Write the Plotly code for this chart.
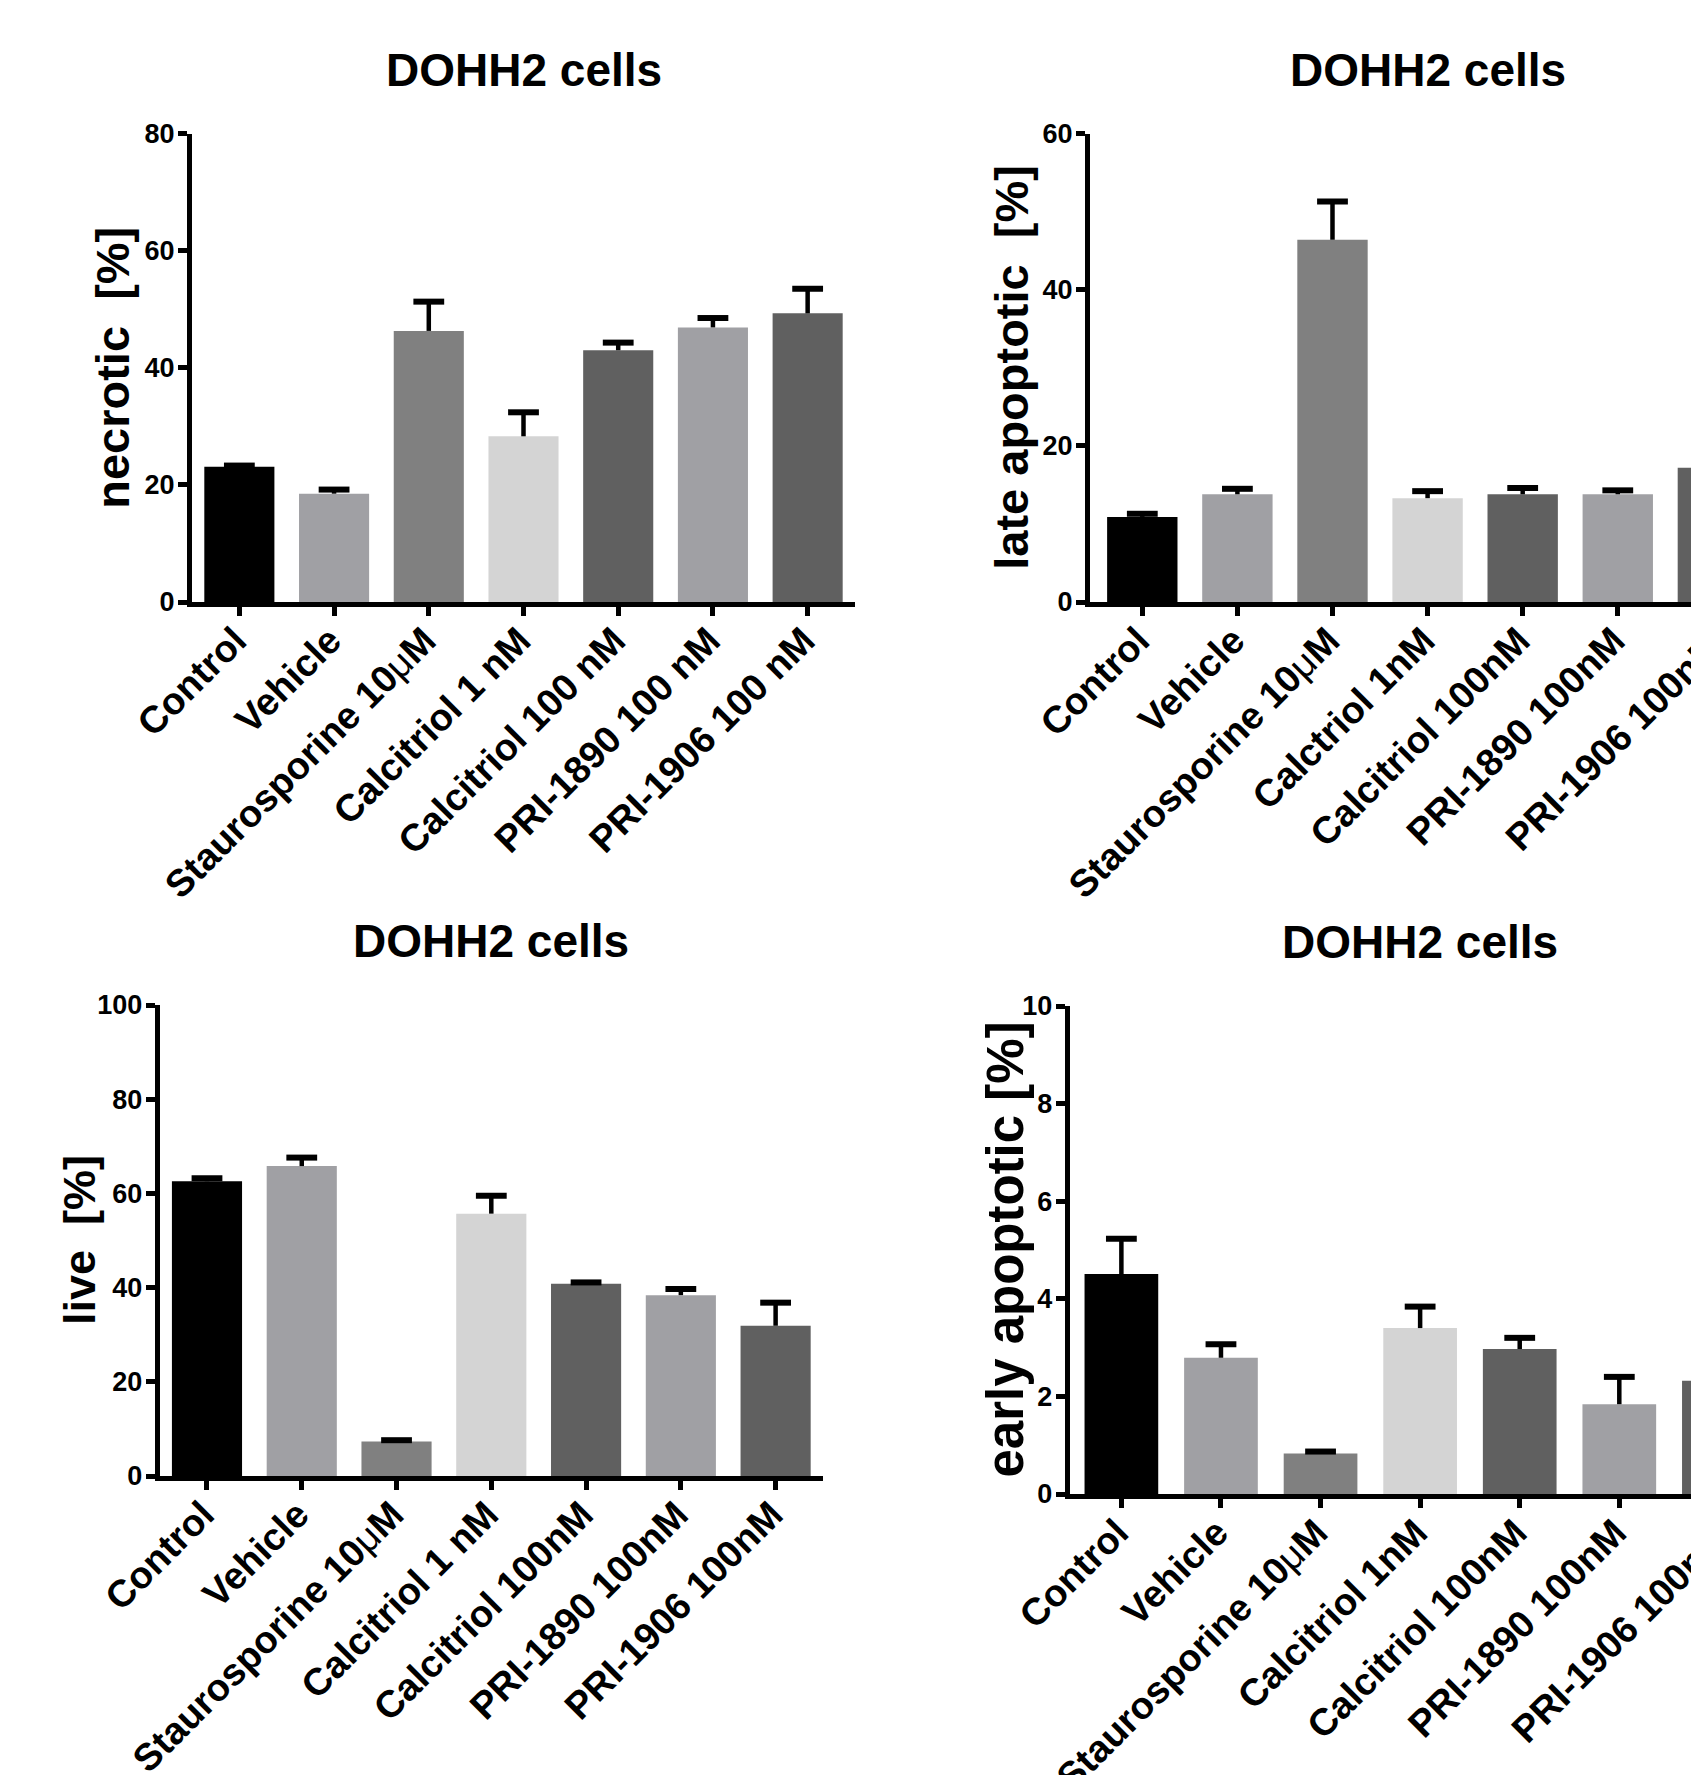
import plotly.graph_objects as go

# ---------------- data ----------------
cats_necrotic = ["Control", "Vehicle", "Staurosporine 10μM", "Calcitriol 1 nM",
                 "Calcitriol 100 nM", "PRI-1890 100 nM", "PRI-1906 100 nM"]
necrotic_mean = [23.1, 18.5, 46.3, 28.3, 43.0, 46.9, 49.3]
necrotic_sem = [0.2, 0.7, 5.0, 4.1, 1.3, 1.6, 4.2]

cats_late = ["Control", "Vehicle", "Staurosporine 10μM", "Calctriol 1nM",
             "Calcitriol 100nM", "PRI-1890 100nM", "PRI-1906 100nM"]
late_mean = [10.9, 13.8, 46.4, 13.3, 13.8, 13.8, 17.2]
late_sem = [0.4, 0.7, 4.9, 0.9, 0.8, 0.5, 1.0]

cats_live = ["Control", "Vehicle", "Staurosporine 10μM", "Calcitriol 1 nM",
             "Calcitriol 100nM", "PRI-1890 100nM", "PRI-1906 100nM"]
live_mean = [62.6, 65.8, 7.3, 55.7, 40.8, 38.4, 31.9]
live_sem = [0.6, 1.8, 0.3, 3.8, 0.3, 1.3, 4.9]

cats_early = ["Control", "Vehicle", "Staurosporine 10μM", "Calcitriol 1nM",
              "Calcitriol 100nM", "PRI-1890 100nM", "PRI-1906 100nM"]
early_mean = [4.51, 2.79, 0.83, 3.40, 2.97, 1.84, 2.32]
early_sem = [0.72, 0.28, 0.04, 0.44, 0.23, 0.56, 0.30]

bar_colors = ["#000000", "#A0A0A4", "#808080", "#D4D4D4", "#606060", "#A0A0A4", "#606060"]

titles = ["DOHH2 cells", "DOHH2 cells", "DOHH2 cells", "DOHH2 cells"]
ytitles = ["necrotic\u00a0\u00a0[%]", "late apoptotic\u00a0\u00a0[%]", "live\u00a0\u00a0[%]", "early apoptotic [%]"]
yranges = [[0, 80], [0, 60], [0, 100], [0, 10]]
ydticks = [20, 20, 20, 2]

W, H = 1691, 1775

# panel geometry in pixels (left, right, top, bottom) and category ranges
panels_px = [(192, 855, 133.6, 602), (1090, 1691, 133.6, 602),
             (159.6, 823, 1005, 1476), (1069.6, 1691, 1006, 1494)]
xranges = [[-0.5, 6.5], [-0.55, 5.77], [-0.5, 6.5], [-0.52, 5.72]]
ytitle_shift = [-79, -78, -80, -65]
ytitle_size = [47, 47, 45, 51]

TICK_FONT = "Liberation Sans, Arial, sans-serif"
NUM_FONT = "Liberation Sans, Arial, sans-serif"


def label(c):
    return c.replace("μ", "<span style='font-weight:normal'>μ</span>")


datasets = [(cats_necrotic, necrotic_mean, necrotic_sem),
            (cats_late, late_mean, late_sem),
            (cats_live, live_mean, live_sem),
            (cats_early, early_mean, early_sem)]

fig = go.Figure()
layout = dict(width=W, height=H, margin=dict(l=0, r=0, t=0, b=0, autoexpand=False),
              template="none",
              paper_bgcolor="white", plot_bgcolor="white", showlegend=False,
              barmode="overlay")
annotations = []

for i, (cats, mean, sem) in enumerate(datasets):
    n = i + 1
    xa = "x" if n == 1 else f"x{n}"
    ya = "y" if n == 1 else f"y{n}"
    l, r, t, b = panels_px[i]
    xdom = [l / W, min(r / W, 1.0)]
    ydom = [1 - b / H, 1 - t / H]

    fig.add_trace(go.Bar(x=cats, y=mean, marker=dict(color=bar_colors, line=dict(width=0)),
                         width=0.74, xaxis=xa, yaxis=ya, hoverinfo="x+y"))
    tops = [m + s for m, s in zip(mean, sem)]
    fig.add_trace(go.Scatter(x=cats, y=tops, mode="markers", xaxis=xa, yaxis=ya,
                             marker=dict(symbol="line-ew", size=22, color="black",
                                         line=dict(width=6, color="black")),
                             error_y=dict(type="data", symmetric=False, array=[0] * len(sem),
                                          arrayminus=sem, width=0, thickness=4.5, color="black"),
                             hoverinfo="skip"))

    layout["xaxis" if n == 1 else f"xaxis{n}"] = dict(
        domain=xdom, anchor=ya, type="category", range=xranges[i], automargin=False,
        tickmode="array", tickvals=cats, ticktext=[label(c) for c in cats],
        tickangle=-45, ticks="outside", ticklen=9, tickwidth=5, tickcolor="black",
        showline=True, linewidth=5, linecolor="black", showgrid=False, zeroline=False,
        tickfont=dict(family=TICK_FONT, size=38, color="black", weight="bold"),
        ticklabelstandoff=-13, ticklabelshift=-4, fixedrange=True)
    layout["yaxis" if n == 1 else f"yaxis{n}"] = dict(
        domain=ydom, anchor=xa, range=yranges[i], dtick=ydticks[i], tick0=0, automargin=False,
        ticks="outside", ticklen=9, tickwidth=5, tickcolor="black",
        showline=True, linewidth=5, linecolor="black", showgrid=False, zeroline=False,
        tickfont=dict(family=NUM_FONT, size=27, color="black", weight="bold"),
        ticklabelstandoff=-2, fixedrange=True)

    # panel title, centred over the middle category
    annotations.append(dict(text=titles[i], xref=xa, x=cats[3], yref=f"{ya} domain", y=1,
                            yshift=64, showarrow=False, xanchor="center", yanchor="middle",
                            font=dict(family=TICK_FONT, size=46, color="black", weight="bold")))
    # y axis title
    annotations.append(dict(text=ytitles[i], xref=f"{xa} domain", x=0, xshift=ytitle_shift[i],
                            yref=f"{ya} domain", y=0.5, textangle=-90, showarrow=False,
                            xanchor="center", yanchor="middle",
                            font=dict(family=TICK_FONT, size=ytitle_size[i], color="black",
                                      weight="bold")))
    # category labels whose ticks fall beyond the cropped right edge
    r0, r1 = xranges[i]
    for k, c in enumerate(cats):
        if k > r1:
            xp = xdom[0] + (k - r0) / (r1 - r0) * (xdom[1] - xdom[0])
            annotations.append(dict(text=label(c), xref="paper", x=xp, yref=f"{ya} domain", y=0,
                                    yshift=-20, xshift=21, textangle=-45, showarrow=False,
                                    xanchor="right", yanchor="top",
                                    font=dict(family=TICK_FONT, size=38, color="black", weight="bold")))

layout["annotations"] = annotations
fig.update_layout(**layout)
fig.write_html("out.html", config={"displayModeBar": False},
               post_script="document.body.style.margin='0px';document.body.style.overflow='hidden';")
